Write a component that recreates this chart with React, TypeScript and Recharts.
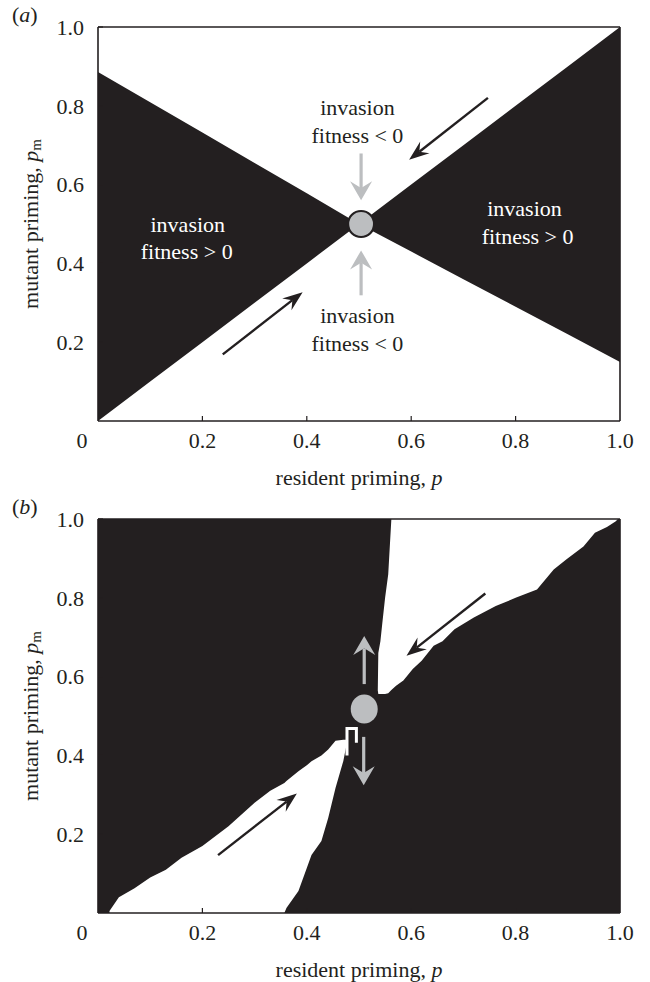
import React from "react";
import { ComposedChart, Area, Scatter, XAxis, YAxis } from "recharts";

const INK = "#231f20";
const GREY = "#bcbec0";
const FONT = "'Liberation Serif', 'Times New Roman', Times, serif";
const FS = 22;

const xTicks = [0, 0.2, 0.4, 0.6, 0.8, 1.0];
const yTicks = [0.2, 0.4, 0.6, 0.8, 1.0];

// (a) the two neutral lines of the pairwise invasibility plot
const residentA = [0, 0.1, 0.2, 0.3, 0.4, 0.5, 0.6, 0.7, 0.8, 0.9, 1.0];
const diagonalA = [0, 0.1, 0.2, 0.3, 0.4, 0.5, 0.6, 0.7, 0.8, 0.9, 1.0];
const antiDiagonalA = [0.886, 0.809, 0.732, 0.655, 0.578, 0.5, 0.43, 0.36, 0.29, 0.22, 0.15];

// (b) white (invasion fitness < 0) wedges on a black background
const upperP = [0.536, 0.537, 0.541, 0.545, 0.55, 0.556, 0.562, 0.571, 0.585, 0.603, 0.62, 0.643, 0.66, 0.683, 0.72, 0.762, 0.8, 0.841, 0.873, 0.897, 0.93, 0.952, 0.975, 0.992, 0.996];
const upperLow = [0.565, 0.556, 0.556, 0.556, 0.556, 0.558, 0.566, 0.577, 0.59, 0.619, 0.64, 0.678, 0.69, 0.72, 0.75, 0.779, 0.8, 0.821, 0.872, 0.897, 0.93, 0.965, 0.98, 0.994, 1.0];
const upperHigh = [0.565, 0.66, 0.69, 0.74, 0.8, 0.86, 1.0, 1.0, 1.0, 1.0, 1.0, 1.0, 1.0, 1.0, 1.0, 1.0, 1.0, 1.0, 1.0, 1.0, 1.0, 1.0, 1.0, 1.0, 1.0];

const lowerP = [0.022, 0.04, 0.07, 0.1, 0.13, 0.16, 0.2, 0.25, 0.3, 0.33, 0.357, 0.361, 0.384, 0.4, 0.409, 0.428, 0.441, 0.455, 0.47, 0.478];
const lowerLow = [0, 0, 0, 0, 0, 0, 0, 0, 0, 0, 0, 0.013, 0.056, 0.114, 0.147, 0.183, 0.241, 0.317, 0.386, 0.44];
const lowerHigh = [0.005, 0.04, 0.063, 0.09, 0.11, 0.14, 0.17, 0.22, 0.28, 0.31, 0.33, 0.335, 0.36, 0.375, 0.385, 0.4, 0.415, 0.437, 0.44, 0.44];

const hookP = [0.477, 0.477, 0.495, 0.495];
const hookPm = [0.4, 0.468, 0.468, 0.432];

const notesA = [
  { x: 0.172, y: 0.5, text: "invasion", fill: "#fff" },
  { x: 0.17, y: 0.43, text: "fitness > 0", fill: "#fff" },
  { x: 0.817, y: 0.54, text: "invasion", fill: "#fff" },
  { x: 0.823, y: 0.468, text: "fitness > 0", fill: "#fff" },
  { x: 0.497, y: 0.797, text: "invasion", fill: INK },
  { x: 0.497, y: 0.725, text: "fitness < 0", fill: INK },
  { x: 0.497, y: 0.268, text: "invasion", fill: INK },
  { x: 0.497, y: 0.198, text: "fitness < 0", fill: INK },
];

const arrowsA = [
  { from: [0.747, 0.82], to: [0.596, 0.663], grey: false },
  { from: [0.239, 0.169], to: [0.392, 0.327], grey: false },
  { from: [0.504, 0.679], to: [0.504, 0.56], grey: true },
  { from: [0.504, 0.319], to: [0.504, 0.433], grey: true },
];
const arrowsB = [
  { from: [0.742, 0.811], to: [0.591, 0.653], grey: false },
  { from: [0.23, 0.147], to: [0.381, 0.303], grey: false },
  { from: [0.51, 0.581], to: [0.51, 0.703], grey: true },
  { from: [0.509, 0.447], to: [0.509, 0.324], grey: true },
];

const singularA = { x: 0.504, y: 0.5 };
const singularB = { x: 0.51, y: 0.518 };

const W = 650;
const H = 491;
const margin = { top: 26, right: 29, bottom: 30, left: 38 };

const bandA = residentA.map((x, i) => ({
  x,
  lo: Math.min(diagonalA[i], antiDiagonalA[i]),
  hi: Math.max(diagonalA[i], antiDiagonalA[i]),
}));
const fullB = [{ x: 0, lo: 0, hi: 1 }, { x: 1, lo: 0, hi: 1 }];
const upperB = upperP.map((x, i) => ({ x, lo: upperLow[i], hi: upperHigh[i] }));
const lowerB = lowerP.map((x, i) => ({ x, lo: lowerLow[i], hi: lowerHigh[i] }));
const hookB = hookP.map((x, i) => ({ x, y: hookPm[i] }));

const band = (d: any) => [d.lo, d.hi];
const serif = { fontFamily: FONT };

const BottomTick = ({ x, y, payload }: any) => {
  const v = payload.value;
  return (
    <g>
      {v > 0 && v < 1 && <line x1={x} y1={y} x2={x} y2={y - 5} stroke={INK} strokeWidth={1.2} />}
      <text x={v === 0 ? x - 16 : x} y={y + 27} textAnchor="middle" style={serif} fontSize={FS} fill={INK}>
        {v === 0 ? "0" : v.toFixed(1)}
      </text>
    </g>
  );
};
const TopTick = ({ x, y, payload }: any) =>
  payload.value > 0 && payload.value < 1 ? <line x1={x} y1={y} x2={x} y2={y + 5} stroke={INK} strokeWidth={1.2} /> : <g />;
const LeftTick = ({ x, y, payload }: any) => (
  <g>
    <line x1={x} y1={y} x2={x + 5} y2={y} stroke={INK} strokeWidth={1.2} />
    <text x={x - 14} y={y} dy="0.35em" textAnchor="end" style={serif} fontSize={FS} fill={INK}>
      {payload.value.toFixed(1)}
    </text>
  </g>
);
const RightTick = ({ x, y }: any) => <line x1={x} y1={y} x2={x - 5} y2={y} stroke={INK} strokeWidth={1.2} />;

const arrowLine = (grey: boolean) => (props: any) => {
  const pts = props.points;
  if (!pts || pts.length < 2) return <g />;
  const a = pts[0];
  const b = pts[1];
  const color = grey ? GREY : INK;
  const len = grey ? 19 : 20;
  const wid = grey ? 22 : 15;
  const shaft = grey ? 3.2 : 2.4;
  const dx = b.x - a.x;
  const dy = b.y - a.y;
  const d = Math.hypot(dx, dy) || 1;
  const ux = dx / d;
  const uy = dy / d;
  const nx = -uy;
  const ny = ux;
  const bx = b.x - ux * len;
  const by = b.y - uy * len;
  const mx = b.x - ux * len * 0.65;
  const my = b.y - uy * len * 0.65;
  return (
    <g>
      <line x1={a.x} y1={a.y} x2={mx} y2={my} stroke={color} strokeWidth={shaft} />
      <polygon
        points={`${b.x},${b.y} ${bx + (nx * wid) / 2},${by + (ny * wid) / 2} ${mx},${my} ${bx - (nx * wid) / 2},${by - (ny * wid) / 2}`}
        fill={color}
      />
    </g>
  );
};

const NoteShape = ({ cx, cy, payload }: any) => (
  <text x={cx} y={cy} dy="0.35em" textAnchor="middle" style={serif} fontSize={FS} fill={payload.fill}>
    {payload.text}
  </text>
);

const Frame = () => [
  <XAxis key="xb" xAxisId={0} dataKey="x" type="number" domain={[0, 1]} ticks={xTicks} height={40}
    axisLine={{ stroke: INK, strokeWidth: 1.6 }} tickLine={false} tickSize={0} tickMargin={0} tick={BottomTick} interval={0} />,
  <XAxis key="xt" xAxisId="top" orientation="top" dataKey="x" type="number" domain={[0, 1]} ticks={xTicks} height={1}
    axisLine={{ stroke: INK, strokeWidth: 1.6 }} tickLine={false} tickSize={0} tickMargin={0} tick={TopTick} interval={0} />,
  <YAxis key="yl" yAxisId={0} type="number" domain={[0, 1]} ticks={yTicks} width={60}
    axisLine={{ stroke: INK, strokeWidth: 1.6 }} tickLine={false} tickSize={0} tickMargin={0} tick={LeftTick} interval={0} />,
  <YAxis key="yr" yAxisId="r" orientation="right" type="number" domain={[0, 1]} ticks={yTicks} width={1}
    axisLine={{ stroke: INK, strokeWidth: 1.6 }} tickLine={false} tickSize={0} tickMargin={0} tick={RightTick} interval={0} />,
];

const arrows = (list: any[], key: string) =>
  list.map((a, i) => (
    <Scatter
      key={key + i}
      data={[{ x: a.from[0], y: a.from[1] }, { x: a.to[0], y: a.to[1] }]}
      dataKey="y"
      line={arrowLine(a.grey)}
      shape={() => <g />}
      isAnimationActive={false}
    />
  ));

function PanelA() {
  return (
    <ComposedChart width={W} height={H} margin={margin}>
      <Area data={bandA} dataKey={band} type="linear" fill={INK} fillOpacity={1} stroke="none" isAnimationActive={false} />
      {Frame()}
      {arrows(arrowsA, "a")}
      <Scatter
        data={[singularA]}
        dataKey="y"
        isAnimationActive={false}
        shape={({ cx, cy }: any) => <circle cx={cx} cy={cy} r={13} fill={GREY} stroke={INK} strokeWidth={2.2} />}
      />
      <Scatter data={notesA} dataKey="y" isAnimationActive={false} shape={NoteShape} />
    </ComposedChart>
  );
}

function PanelB() {
  return (
    <ComposedChart width={W} height={H} margin={margin}>
      <Area data={fullB} dataKey={band} type="linear" fill={INK} fillOpacity={1} stroke="none" isAnimationActive={false} />
      <Area data={upperB} dataKey={band} type="linear" fill="#fff" fillOpacity={1} stroke="none" isAnimationActive={false} />
      <Area data={lowerB} dataKey={band} type="linear" fill="#fff" fillOpacity={1} stroke="none" isAnimationActive={false} />
      {Frame()}
      <Scatter data={hookB} dataKey="y" line={{ stroke: "#fff", strokeWidth: 3 }} shape={() => <g />} isAnimationActive={false} />
      {arrows(arrowsB, "b")}
      <Scatter
        data={[singularB]}
        dataKey="y"
        isAnimationActive={false}
        shape={({ cx, cy }: any) => <ellipse cx={cx} cy={cy} rx={13.5} ry={14.5} fill={GREY} />}
      />
    </ComposedChart>
  );
}

const txt: React.CSSProperties = { position: "absolute", fontFamily: FONT, fontSize: FS, color: INK, whiteSpace: "nowrap", lineHeight: 1 };

function Titles({ top, tag }: { top: number; tag: string }) {
  return (
    <>
      <div style={{ ...txt, left: 12, top: top + 4 }}>
        (<i>{tag}</i>)
      </div>
      <div style={{ ...txt, left: 359, top: top + 478, transform: "translate(-50%, -50%)" }}>
        resident priming, <i>p</i>
      </div>
      <div style={{ ...txt, left: 32, top: top + 224, transform: "translate(-50%, -50%) rotate(-90deg)" }}>
        mutant priming, <i>p</i>
        <sub style={{ fontSize: 15, verticalAlign: "-0.25em" }}>m</sub>
      </div>
    </>
  );
}

export default function App() {
  return (
    <div style={{ position: "absolute", left: 0, top: 0, width: 650, height: 982, background: "#fff", fontFamily: FONT }}>
      <div style={{ position: "absolute", left: 0, top: 0 }}>
        <PanelA />
      </div>
      <div style={{ position: "absolute", left: 0, top: 492 }}>
        <PanelB />
      </div>
      <Titles top={0} tag="a" />
      <Titles top={492} tag="b" />
    </div>
  );
}
